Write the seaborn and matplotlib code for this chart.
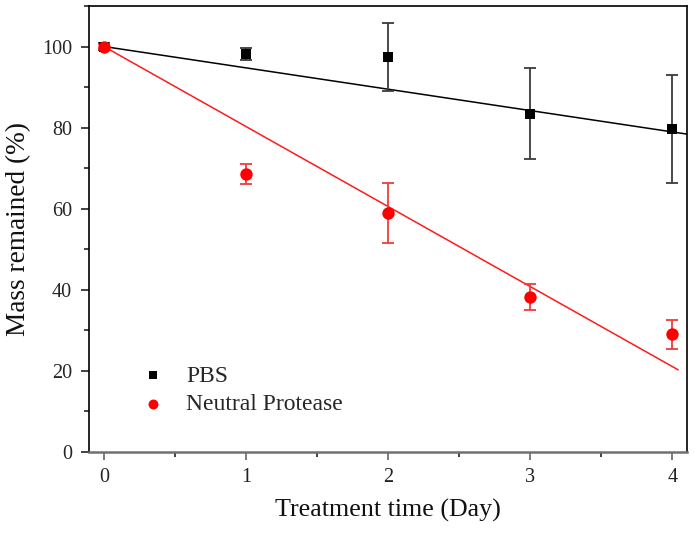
import numpy as np
import pandas as pd
import matplotlib
matplotlib.use("Agg")
import matplotlib.pyplot as plt
import seaborn as sns
from matplotlib.ticker import MultipleLocator

# ---- data ----
days = [0, 1, 2, 3, 4]
pbs_mean = [100.0, 98.2, 97.4, 83.4, 79.6]
pbs_err = [0.8, 1.5, 8.3, 11.2, 13.3]
prot_mean = [100.0, 68.6, 58.9, 38.3, 29.0]
prot_err = [0.5, 2.5, 7.5, 3.2, 3.6]
# linear fits (intercept, slope) and their x-extent
pbs_fit = (100.0, -5.27)
prot_fit = (100.0, -19.75)
pbs_fit_x = [0.0, 4.1]
prot_fit_x = [0.0, 4.04]
series_names = ["PBS", "Neutral Protease"]

sns.set_style("ticks")
plt.rcParams["font.family"] = ["Liberation Serif", "DejaVu Serif"]
plt.rcParams["mathtext.fontset"] = "stix"

fig = plt.figure(figsize=(6.94, 5.34), dpi=100)
ax = fig.add_axes([0.128, 0.154, 0.8615, 0.8348])

df = pd.DataFrame({
    "day": days * 2,
    "mass": pbs_mean + prot_mean,
    "group": [series_names[0]] * 5 + [series_names[1]] * 5,
})

# fit lines
fit_df = pd.DataFrame({
    "day": pbs_fit_x + prot_fit_x,
    "mass": [pbs_fit[0] + pbs_fit[1] * x for x in pbs_fit_x]
            + [prot_fit[0] + prot_fit[1] * x for x in prot_fit_x],
    "group": [series_names[0]] * 2 + [series_names[1]] * 2,
})
sns.lineplot(data=fit_df, x="day", y="mass", hue="group",
             palette={series_names[0]: "black", series_names[1]: "#ff1a1a"},
             linewidth=1.1, legend=False, ax=ax, zorder=2)

# error bars
ax.errorbar(days, pbs_mean, yerr=pbs_err, fmt="none", ecolor="#3a3a3a",
            elinewidth=1.3, capsize=4.5, capthick=1.3, zorder=3)
ax.errorbar(days, prot_mean, yerr=prot_err, fmt="none", ecolor="#f03c3c",
            elinewidth=1.3, capsize=4.5, capthick=1.3, zorder=3)

# markers
sns.scatterplot(data=df[df.group == series_names[0]], x="day", y="mass",
                marker="s", color="black", s=60, edgecolor="black",
                linewidth=0, ax=ax, zorder=4, label=series_names[0])
sns.scatterplot(data=df[df.group == series_names[1]], x="day", y="mass",
                marker="o", color="#ff0000", s=80, edgecolor="#ff0000",
                linewidth=0, ax=ax, zorder=5, label=series_names[1])

ax.set_xlim(-0.106, 4.1)
ax.set_ylim(0, 110)
ax.xaxis.set_major_locator(MultipleLocator(1))
ax.xaxis.set_minor_locator(MultipleLocator(0.5))
ax.yaxis.set_major_locator(MultipleLocator(20))
ax.yaxis.set_minor_locator(MultipleLocator(10))
ax.set_yticks([0, 20, 40, 60, 80, 100])

ax.tick_params(axis="both", which="major", length=6, width=1.2,
               direction="out", labelsize=14.5, pad=6, color="#222222")
ax.tick_params(axis="both", which="minor", length=3.5, width=1.2,
               direction="out", color="#222222")
ax.tick_params(axis="x", colors="#666666", labelcolor="#222222")
for side in ["top", "right", "left"]:
    ax.spines[side].set_color("black")
    ax.spines[side].set_linewidth(1.2)
ax.spines["bottom"].set_color("#707070")
ax.spines["bottom"].set_linewidth(1.8)

ax.set_xlabel("Treatment time (Day)", fontsize=18.7, labelpad=8, color="#111111")
ax.set_ylabel("Mass remained (%)", fontsize=19.6, labelpad=8, color="#111111")

leg = ax.legend(loc="upper left", bbox_to_anchor=(129.4 / 694, (534 - 365) / 534),
                bbox_transform=fig.transFigure, frameon=False,
                fontsize=17, handletextpad=0.4, labelspacing=0.3,
                borderpad=0, borderaxespad=0, markerscale=0.8)

fig.savefig("out.png", dpi=100)
